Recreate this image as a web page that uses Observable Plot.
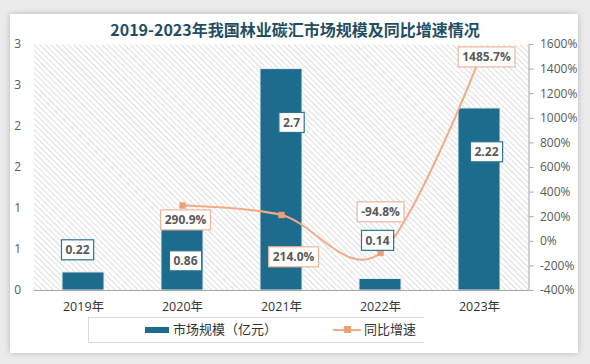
<!DOCTYPE html>
<html><head><meta charset="utf-8">
<script src="https://cdn.jsdelivr.net/npm/d3@7"></script>
<script src="https://cdn.jsdelivr.net/npm/@observablehq/plot@0.6"></script>
<style>
html,body{margin:0;padding:0;width:590px;height:364px;overflow:hidden;background:#ebebeb;font-family:"Noto Sans CJK SC","Open Sans",sans-serif;}
#card{position:absolute;left:10px;top:14px;width:568px;height:339px;background:#fff;box-shadow:0 0 6px rgba(0,0,0,0.22);}
#chart{position:absolute;left:0;top:0;}
#title{position:absolute;left:0;top:19px;width:590px;text-align:center;font-size:16px;font-weight:bold;color:#1f4e64;line-height:20px;}
#legend{position:absolute;left:88px;top:317px;width:335px;height:24px;border:1px solid #d9d9d9;border-right:none;}
.lg{position:absolute;font-size:13px;color:#333;line-height:16px;top:321px;}
#sw1{position:absolute;left:145px;top:327px;width:24px;height:6px;background:#1d6b8d;}
#ln{position:absolute;left:333px;top:329px;width:28px;height:2px;background:#f2ab88;}
#mk{position:absolute;left:344px;top:326px;width:7px;height:7px;background:#ee9f78;}
</style></head>
<body>
<div id="card"></div>
<div id="chart"></div>
<div id="title">2019-2023年我国林业碳汇市场规模及同比增速情况</div>
<div id="legend"></div>
<div id="sw1"></div><div class="lg" style="left:173px">市场规模（亿元）</div>
<div id="ln"></div><div id="mk"></div><div class="lg" style="left:364px">同比增速</div>
<script>
// ---- data ----
const years = ["2019年","2020年","2021年","2022年","2023年"];
const marketSize = [0.22, 0.86, 2.7, 0.14, 2.22];
const sizeLabels = ["0.22","0.86","2.7","0.14","2.22"];
const growth = [null, 290.9, 214.0, -94.8, 1485.7];
const growthLabels = [null, "290.9%", "214.0%", "-94.8%", "1485.7%"];
const leftTicks = [0, 0.5, 1, 1.5, 2, 2.5, 3];
const leftTickLabels = ["0","1","1","2","2","3","3"];
const rightTicks = [-400,-200,0,200,400,600,800,1000,1200,1400,1600];
const rightTickLabels = rightTicks.map(v => v + "%");

// ---- layout (label nudges, px) ----
const barOff = [[-6,-22],[3,41.5],[10,54],[-3,-38],[7,44]];
const lineOff = [null,[3,15],[12,42.5],[0,-40.5],[7,-1]];

const rMin = -400, rMax = 1600, lMax = 3;
const toLeft = p => (p - rMin) / (rMax - rMin) * lMax;

const rows = years.map((y,i) => ({year:y, size:marketSize[i], sizeLabel:sizeLabels[i], growth:growth[i], growthLabel:growthLabels[i], i}));
const lineRows = rows.filter(d => d.growth != null);

const font = {fontSize:12, fontWeight:"bold", fill:"#595959"};
const barLabelMarks = rows.map(d => Plot.text([d], {x:"year", y:"size", text:"sizeLabel", dx:barOff[d.i][0], dy:barOff[d.i][1], ...font}));
const lineLabelMarks = lineRows.map(d => Plot.text([d], {x:"year", y:r => toLeft(r.growth), text:"growthLabel", dx:lineOff[d.i][0], dy:lineOff[d.i][1], ...font}));

const svg = Plot.plot({
  width:590, height:364,
  marginLeft:33.5, marginRight:61.5, marginTop:44, marginBottom:74,
  style:{fontFamily:'"Open Sans","Noto Sans CJK SC",sans-serif', fontSize:"12px", color:"#595959", background:"transparent"},
  x:{type:"band", domain:years, paddingInner:0.576, paddingOuter:0.288},
  y:{domain:[0,lMax]},
  marks:[
    Plot.frame({fill:"url(#hatch)", stroke:"none"}),
    Plot.barY(rows, {x:"year", y:"size", fill:"#1d6b8d", stroke:"#e6edf1", strokeWidth:1}),
    Plot.ruleY([0], {stroke:"#a6a6a6"}),
    Plot.frame({anchor:"right", stroke:"#a6a6a6"}),
    Plot.axisY({anchor:"left", ticks:leftTicks, tickFormat:(d,i)=>leftTickLabels[i], tickSize:0, tickPadding:13, label:null, fill:"#595959"}),
    Plot.axisY({anchor:"right", ticks:rightTicks.map(toLeft), tickFormat:(d,i)=>rightTickLabels[i], tickSize:4, tickPadding:7, label:null, stroke:"#a6a6a6", fill:"#595959"}),
    Plot.axisX({tickSize:0, tickPadding:12, label:null, fill:"#333", fontSize:12.5}),
    Plot.line(lineRows, {x:"year", y:d => toLeft(d.growth), curve:"cardinal", stroke:"#f2ab88", strokeWidth:2}),
    Plot.dot(lineRows, {x:"year", y:d => toLeft(d.growth), symbol:"square", r:3.6, fill:"#ee9f78", stroke:"none"}),
    ...barLabelMarks,
    ...lineLabelMarks
  ]
});
document.getElementById("chart").appendChild(svg);

// hatch pattern
const ns = "http://www.w3.org/2000/svg";
const defs = document.createElementNS(ns, "defs");
defs.innerHTML = '<pattern id="hatch" patternUnits="userSpaceOnUse" width="4" height="4" patternTransform="rotate(-45)"><rect width="4" height="4" fill="#ffffff"/><line x1="0" y1="0" x2="0" y2="4" stroke="#d6d6d6" stroke-width="1.6"/></pattern>';
svg.insertBefore(defs, svg.firstChild);

// label boxes
const barSet = new Set(sizeLabels);
const lineSet = new Set(growthLabels.filter(Boolean));
Array.from(svg.querySelectorAll("text")).forEach(t => {
  const s = t.textContent.trim();
  let color = null;
  if (barSet.has(s)) color = "#2e7591";
  else if (lineSet.has(s)) color = "#f0b49a";
  if (!color) return;
  const b = t.getBBox();
  const r = document.createElementNS(ns, "rect");
  r.setAttribute("x", b.x - 4); r.setAttribute("y", b.y - 1.5);
  r.setAttribute("width", b.width + 8); r.setAttribute("height", b.height + 3);
  r.setAttribute("fill", "#fff"); r.setAttribute("stroke", color); r.setAttribute("stroke-width", "1.2");
  if (t.getAttribute("transform")) r.setAttribute("transform", t.getAttribute("transform"));
  t.parentNode.insertBefore(r, t);
});
</script>
</body></html>
